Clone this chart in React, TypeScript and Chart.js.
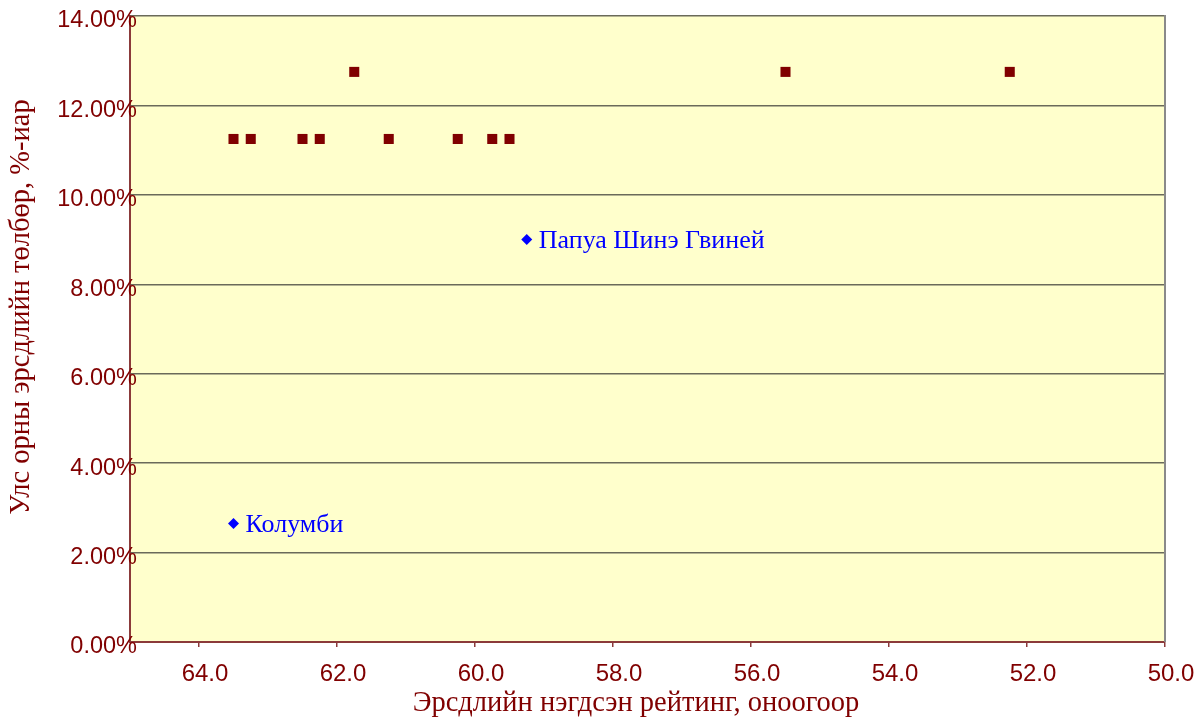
import React, { useEffect, useRef } from 'react';
import { Chart, registerables } from 'chart.js';

Chart.register(...registerables);

// Dark red squares: countries (rating score, country risk premium %)
const squareX = [63.5, 63.25, 62.5, 62.25, 61.75, 61.25, 60.25, 59.75, 59.5, 55.5, 52.25];
const squareY = [11.25, 11.25, 11.25, 11.25, 12.75, 11.25, 11.25, 11.25, 11.25, 12.75, 12.75];

// Blue diamonds: labelled countries
const diamondLabels = ['Папуа Шинэ Гвиней', 'Колумби'];
const diamondX = [59.25, 63.5];
const diamondY = [9.0, 2.65];

const xTitle = 'Эрсдлийн нэгдсэн рейтинг, оноогоор';
const yTitle = 'Улс орны эрсдлийн төлбөр, %-иар';

const xMin = 50;
const xMax = 65;
const xStep = 2;
const yMin = 0;
const yMax = 14;
const yStep = 2;

const DARK_RED = '#800000';
const AXIS_RED = '#8B3A3A';
const GRID = '#6a6a5a';
const PLOT_BG = '#FFFFCC';
const BLUE = '#0000FF';
const Y_TICK_FONT = '23.5px "Liberation Sans", Arial, sans-serif';

const fmtY = (v: number) => v.toFixed(2) + '%';

export default function App() {
  const canvasRef = useRef<HTMLCanvasElement | null>(null);

  useEffect(() => {
    const canvas = canvasRef.current;
    if (!canvas) return;

    const bgPlugin = {
      id: 'plotBg',
      beforeDraw(chart: any) {
        const { ctx, chartArea } = chart;
        ctx.save();
        ctx.fillStyle = PLOT_BG;
        ctx.fillRect(chartArea.left, chartArea.top, chartArea.right - chartArea.left, chartArea.bottom - chartArea.top);
        ctx.restore();
      },
      afterDraw(chart: any) {
        const { ctx, chartArea } = chart;
        ctx.save();
        // right border
        ctx.strokeStyle = '#8a8a8a';
        ctx.lineWidth = 2;
        ctx.beginPath();
        ctx.moveTo(chartArea.right, chartArea.top - 1);
        ctx.lineTo(chartArea.right, chartArea.bottom);
        ctx.stroke();
        // y tick labels (overlapping the axis line, as in the original)
        const ys = chart.scales.y;
        ctx.fillStyle = DARK_RED;
        ctx.font = Y_TICK_FONT;
        ctx.textAlign = 'right';
        ctx.textBaseline = 'middle';
        ys.ticks.forEach((t: any) => {
          ctx.fillText(fmtY(t.value), chartArea.left + 7, ys.getPixelForValue(t.value) + 5);
        });
        // axis titles
        ctx.font = '28.5px "Liberation Serif", "Times New Roman", serif';
        ctx.textAlign = 'center';
        ctx.fillText(xTitle, 636, 704);
        ctx.translate(22, 307);
        ctx.rotate(-Math.PI / 2);
        ctx.fillText(yTitle, 0, 0);
        ctx.restore();
      },
      afterDatasetsDraw(chart: any) {
        const { ctx } = chart;
        const meta = chart.getDatasetMeta(1);
        ctx.save();
        ctx.fillStyle = BLUE;
        ctx.font = '26px "Liberation Serif", "Times New Roman", serif';
        ctx.textAlign = 'left';
        ctx.textBaseline = 'middle';
        meta.data.forEach((el: any, i: number) => {
          ctx.fillText(diamondLabels[i], el.x + 12, el.y + 2);
        });
        ctx.restore();
      },
    };

    const chart = new Chart(canvas, {
      type: 'scatter',
      data: {
        datasets: [
          {
            label: 'squares',
            data: squareX.map((x, i) => ({ x, y: squareY[i] })),
            pointStyle: 'rect',
            pointRadius: 7.1,
            pointHoverRadius: 7.1,
            backgroundColor: DARK_RED,
            borderColor: DARK_RED,
            borderWidth: 0,
          },
          {
            label: 'diamonds',
            data: diamondX.map((x, i) => ({ x, y: diamondY[i] })),
            pointStyle: 'rectRot',
            pointRadius: 5.5,
            pointHoverRadius: 5.5,
            backgroundColor: BLUE,
            borderColor: BLUE,
            borderWidth: 0,
          },
        ],
      },
      options: {
        responsive: false,
        animation: false,
        devicePixelRatio: 1,
        layout: { padding: { left: 0, top: 16, right: 38, bottom: 0 } },
        plugins: {
          legend: { display: false },
          tooltip: { enabled: false },
        },
        scales: {
          x: {
            type: 'linear',
            min: xMin,
            max: xMax,
            reverse: true,
            afterBuildTicks(scale: any) {
              scale.ticks = scale.ticks.filter((t: any) => Math.round(t.value) % xStep === 0);
            },
            afterFit(scale: any) {
              scale.height = 76;
            },
            ticks: {
              stepSize: xStep,
              color: DARK_RED,
              padding: 13,
              labelOffset: 6,
              font: { family: '"Liberation Sans", Arial, sans-serif', size: 24 },
              callback: (v: any) => Number(v).toFixed(1),
              maxRotation: 0,
            },
            grid: {
              drawOnChartArea: false,
              drawTicks: true,
              tickLength: 5,
              color: AXIS_RED,
              lineWidth: 1.5,
            },
            border: { display: true, color: AXIS_RED, width: 2 },
          },
          y: {
            type: 'linear',
            min: yMin,
            max: yMax,
            afterFit(scale: any) {
              scale.width = 130;
            },
            ticks: {
              stepSize: yStep,
              display: false,
              callback: (v: any) => fmtY(Number(v)),
            },
            grid: {
              drawTicks: false,
              color: GRID,
              lineWidth: 1.5,
            },
            border: { display: true, color: AXIS_RED, width: 2 },
          },
        },
      },
      plugins: [bgPlugin],
    } as any);

    return () => chart.destroy();
  }, []);

  return (
    <div style={{ position: 'absolute', left: 0, top: 0, width: 1203, height: 718 }}>
      <canvas ref={canvasRef} width={1203} height={718} style={{ display: 'block', width: 1203, height: 718 }} />
    </div>
  );
}
